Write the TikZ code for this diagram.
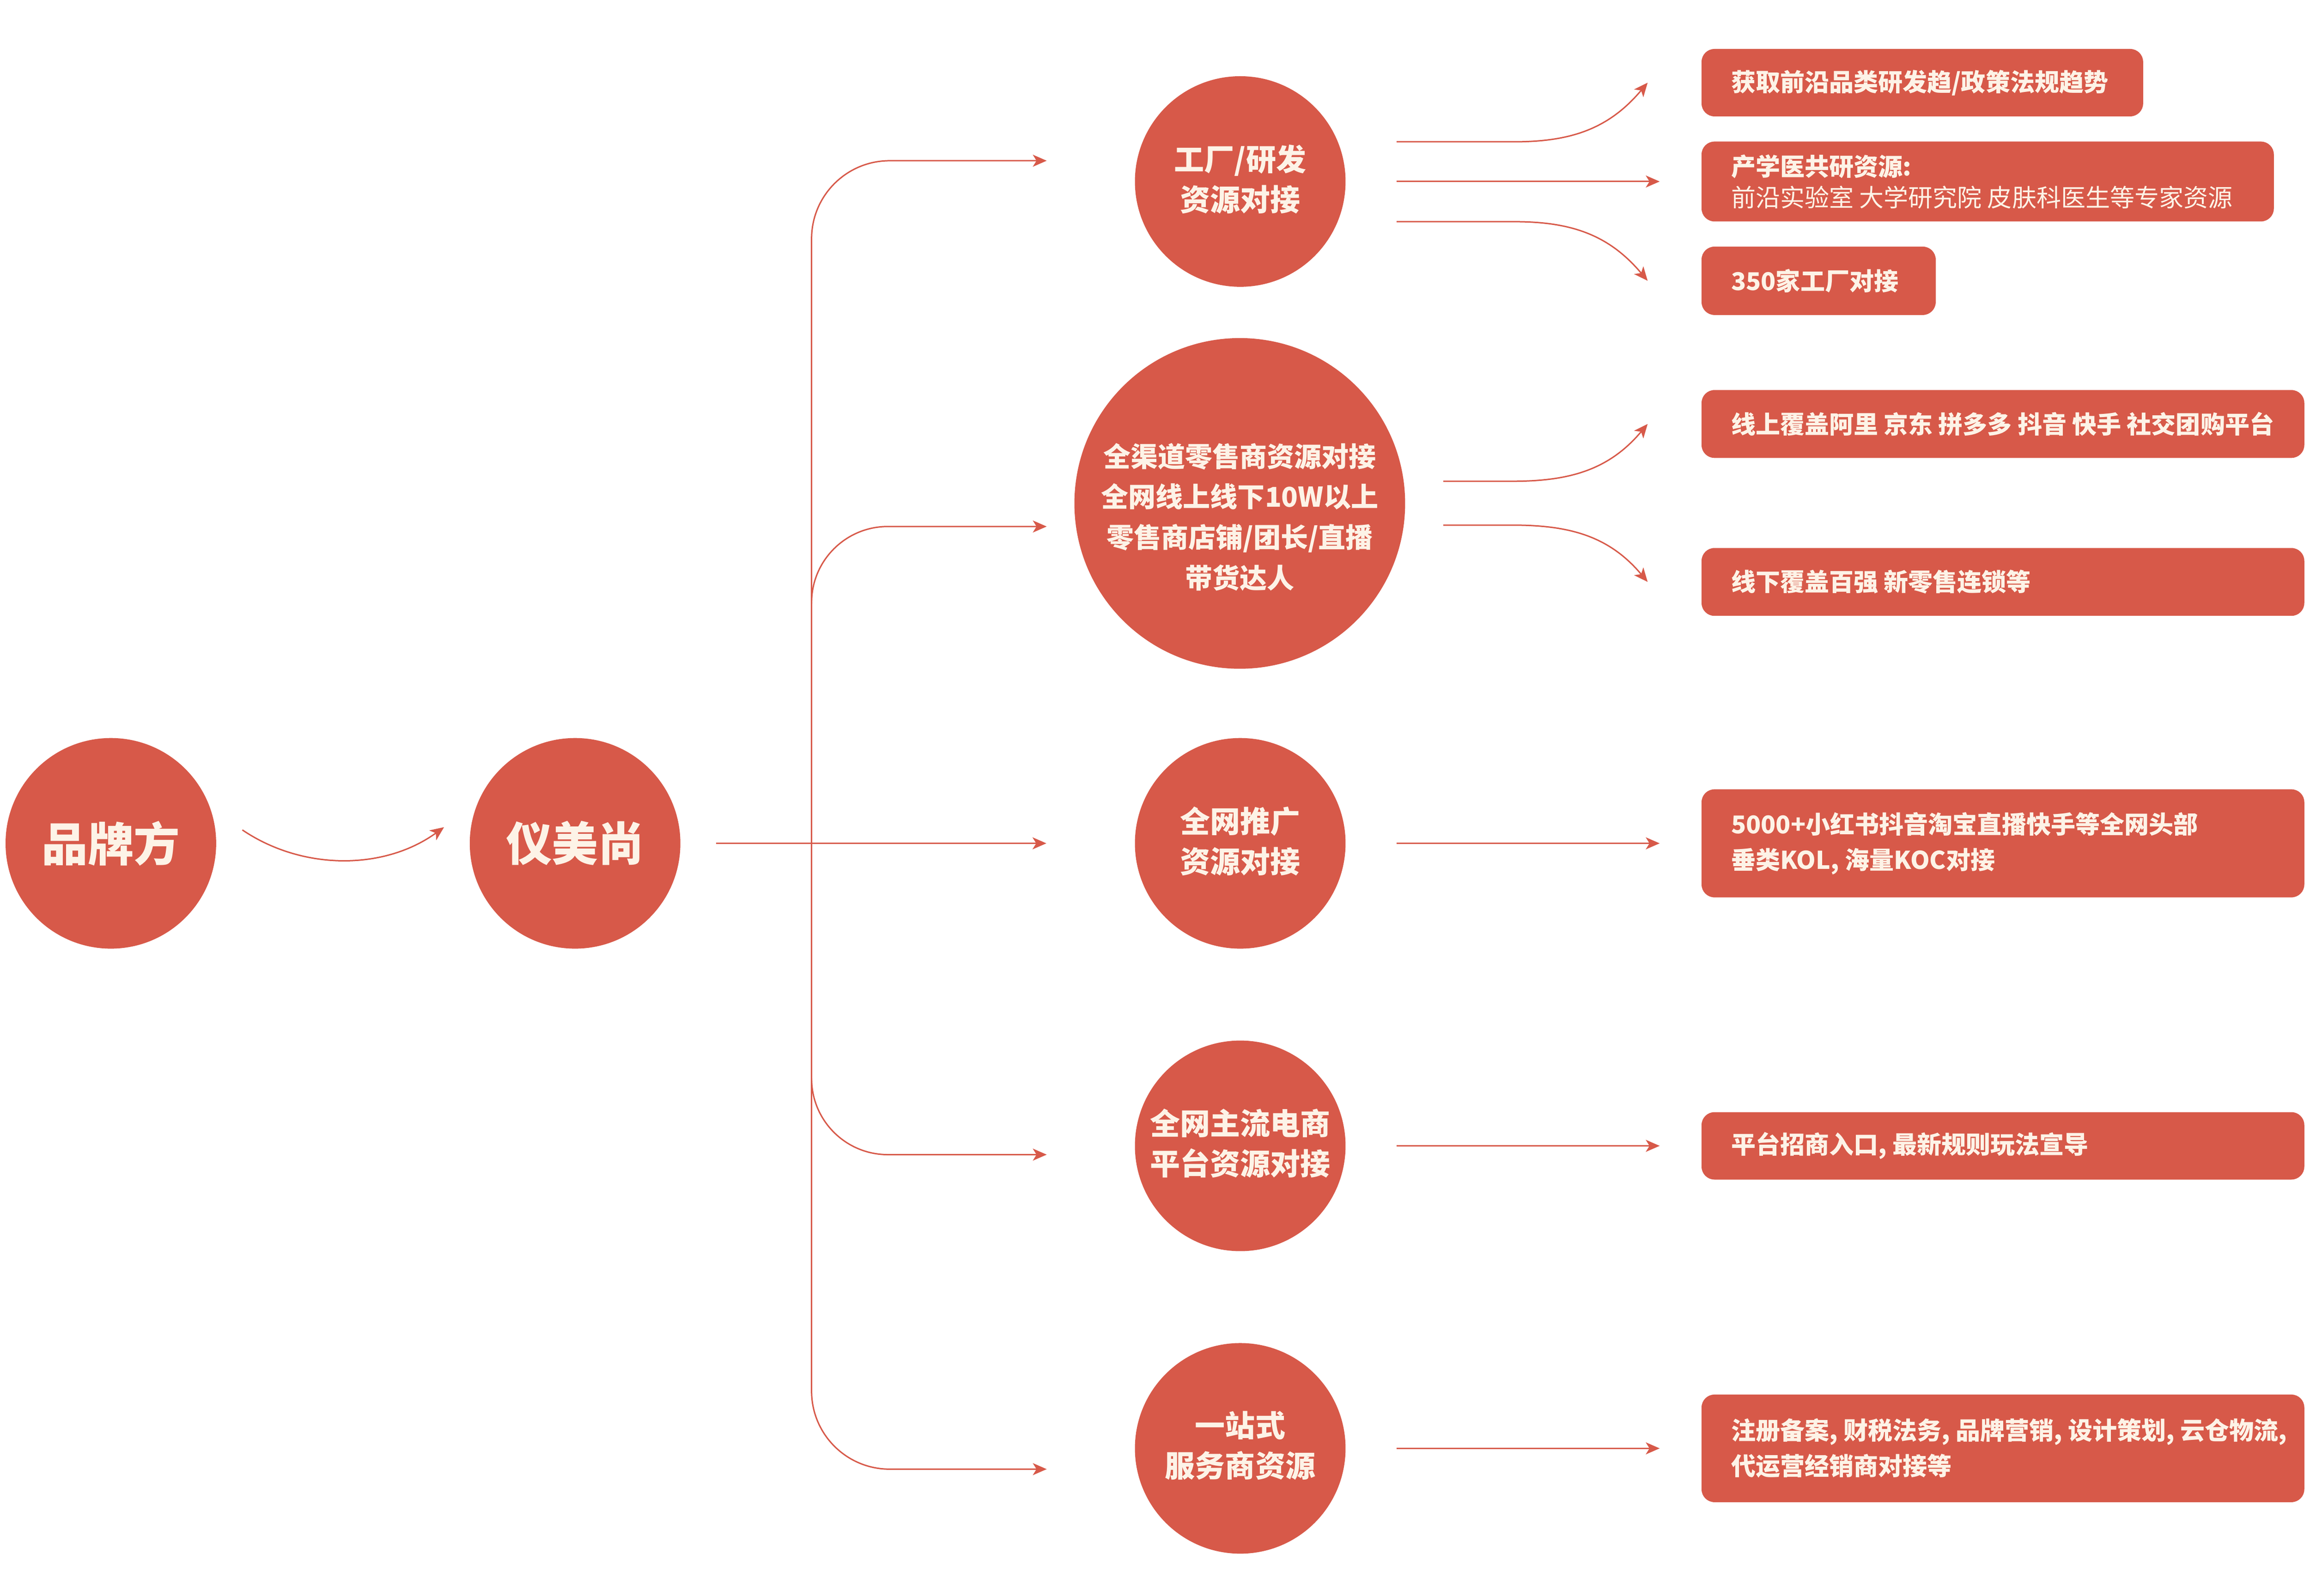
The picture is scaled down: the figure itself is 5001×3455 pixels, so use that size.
\documentclass[tikz,border=0pt]{standalone}
\usepackage{fontspec}
\setmainfont{Noto Sans CJK SC}
\usetikzlibrary{arrows.meta}
\definecolor{brandred}{HTML}{D75949}
\definecolor{cream}{HTML}{FDF3E7}
\tikzset{
	hub/.style={circle, fill=brandred, text=cream, inner sep=0pt, minimum size=45.6mm,
		align=center, font=\bfseries\fontsize{18.5}{24.7}\selectfont},
	infobox/.style={rounded corners=2.8mm, fill=brandred, text=cream, anchor=west,
		align=left, inner xsep=6.4mm, inner ysep=0pt, font=\bfseries\fontsize{15.1}{21.9}\selectfont},
	link/.style={draw=brandred, line width=0.3mm, -{Stealth[length=3mm,width=2.6mm,inset=0.8mm]}},
}
\newcommand{\gap}{\kern0.23em}

\begin{document}
\begin{tikzpicture}[x=0.1mm, y=-0.1mm]
	\useasboundingbox (0,0) rectangle (5001,3455);
	\node[hub, font=\bfseries\fontsize{28.4}{34}\selectfont] (brand) at (240,1826) {品牌方};
	\node[hub, font=\bfseries\fontsize{28.4}{34}\selectfont] (yms) at (1245,1826) {仪美尚};
	\node[hub] (factory) at (2685,393) {工厂/研发\\资源对接\rule[-1.6mm]{0pt}{0pt}};
	\node[hub, minimum size=71.6mm, font=\bfseries\fontsize{16.8}{25}\selectfont] (retail) at (2684,1090)
		{\rule{0pt}{11mm}全渠道零售商资源对接\\全网线上线下10W以上\\零售商店铺/团长/直播\\带货达人};
	\node[hub] (promo) at (2685,1826) {全网推广\\资源对接\rule[-1.6mm]{0pt}{0pt}};
	\node[hub] (ecom) at (2685,2481) {全网主流电商\\平台资源对接\rule[-1.8mm]{0pt}{0pt}};
	\node[hub] (service) at (2685,3136) {一站式\\服务商资源\rule[-1.8mm]{0pt}{0pt}};

	\node[infobox, text width=82.8mm, minimum height=14.6mm] (trend) at (3683,179) {获取前沿品类研发趋/政策法规趋势};
	\node[infobox, text width=111.1mm, minimum height=17.3mm, font=\fontsize{15.1}{19}\selectfont] (lab) at (3683,393)
		{\textbf{产学医共研资源:}\\前沿实验室\gap 大学研究院\gap 皮肤科医生等专家资源};
	\node[infobox, text width=37.9mm, minimum height=14.8mm] (plant) at (3683,608) {350家工厂对接};
	\node[infobox, text width=117.7mm, minimum height=14.7mm] (online) at (3683,918)
		{线上覆盖阿里\gap 京东\gap 拼多多\gap 抖音\gap 快手\gap 社交团购平台};
	\node[infobox, text width=117.7mm, minimum height=14.7mm] (offline) at (3683,1260) {线下覆盖百强\gap 新零售连锁等};
	\node[infobox, text width=117.7mm, minimum height=23.4mm] (kol) at (3683,1826)
		{5000+小红书抖音淘宝直播快手等全网头部\\垂类KOL,\gap 海量KOC对接};
	\node[infobox, text width=117.7mm, minimum height=14.6mm] (entry) at (3683,2481) {平台招商入口,\gap 最新规则玩法宣导};
	\node[infobox, text width=117.7mm, minimum height=23.3mm] (setup) at (3683,3136)
		{注册备案,\gap 财税法务,\gap 品牌营销,\gap 设计策划,\gap 云仓物流,\\代运营经销商对接等};

	\coordinate (fork) at (1757,1826);
	\coordinate (k2) at (1757,1307);
	\coordinate (k4) at (1757,2335);
	\coordinate (t1) at (2266,348);
	\coordinate (t2) at (2266,1140);
	\coordinate (t4) at (2266,2500);
	\coordinate (t5) at (2266,3181);

	\draw[link] ([xshift=5.6mm,yshift=2.9mm]brand.east) .. controls +(130,88) and +(-130,94) .. ([xshift=-5.5mm,yshift=3.5mm]yms.west);
	\draw[link, shorten <=7.7mm, shorten >=19.1mm] (yms) -- (promo);
	\draw[link, rounded corners=16.9mm] (fork) |- (t1);
	\draw[link, rounded corners=16.5mm] (k2) |- (t2);
	\draw[link, rounded corners=16.5mm] (k4) |- (t4);
	\draw[link, rounded corners=16.9mm] (fork) |- (t5);

	\draw[link] ([xshift=11mm,yshift=8.6mm]factory.east) -- ++(255,0) .. controls +(122,0) and +(-84,100) .. ([xshift=-11.6mm]trend.west);
	\draw[link, shorten <=11mm, shorten >=9mm] (factory) -- (lab);
	\draw[link] ([xshift=11mm,yshift=-8.7mm]factory.east) -- ++(255,0) .. controls +(122,0) and +(-84,-100) .. ([xshift=-11.6mm]plant.west);
	\draw[link] ([xshift=8.2mm,yshift=4.8mm]retail.east) -- ++(150,0) .. controls +(122,0) and +(-84,100) .. ([xshift=-11.6mm]online.west);
	\draw[link] ([xshift=8.2mm,yshift=-4.7mm]retail.east) -- ++(150,0) .. controls +(122,0) and +(-84,-100) .. ([xshift=-11.6mm]offline.west);
	\draw[link, shorten <=11mm, shorten >=9mm] (promo) -- (kol);
	\draw[link, shorten <=11mm, shorten >=9mm] (ecom) -- (entry);
	\draw[link, shorten <=11mm, shorten >=9mm] (service) -- (setup);
\end{tikzpicture}
\end{document}
